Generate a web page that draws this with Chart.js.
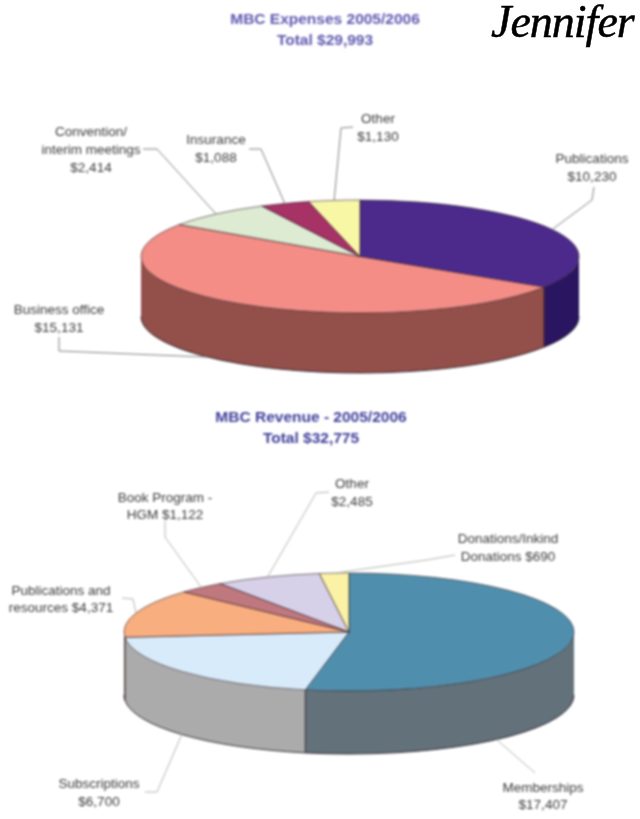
<!DOCTYPE html>
<html><head><meta charset="utf-8">
<style>
html,body{margin:0;padding:0;background:#fff;width:640px;height:819px;overflow:hidden}
canvas{position:absolute;left:0;filter:blur(0.8px)}
#c1{top:0}
#c2{top:394px}
#sig{position:absolute;left:491px;top:-5px;font:italic 400 46px "Liberation Serif",serif;color:#000;-webkit-text-stroke:0.5px #000;white-space:nowrap;letter-spacing:-1px}
</style>
<script src="https://cdn.jsdelivr.net/npm/chart.js@4"></script>
</head><body>
<canvas id="c1" width="640" height="394"></canvas>
<canvas id="c2" width="640" height="425"></canvas>
<div id="sig">Jennifer</div>
<script>
// ---- data ----
const expenseCategories = ['Publications','Business office','Convention/ interim meetings','Insurance','Other'];
const expenseValues = [10230,15131,2414,1088,1130];
const expenseTitle = ['MBC Expenses 2005/2006','Total $29,993'];
const expenseLabels = [['Publications','$10,230'],['Business office','$15,131'],['Convention/','interim meetings','$2,414'],['Insurance','$1,088'],['Other','$1,130']];

const revenueCategories = ['Memberships','Subscriptions','Publications and resources','Book Program - HGM','Other','Donations/Inkind Donations'];
const revenueValues = [17407,6700,4371,1122,2485,690];
const revenueTitle = ['MBC Revenue - 2005/2006','Total $32,775'];
const revenueLabels = [['Memberships','$17,407'],['Subscriptions','$6,700'],['Publications and','resources $4,371'],['Book Program -','HGM $1,122'],['Other','$2,485'],['Donations/Inkind','Donations $690']];

// ---- styles ----
const expenseColors = ['#4B2A8C','#F38D86','#DCEBD2','#A63266','#F8F7A6'];
const expenseSides  = ['#2A1560','#934F4A','#7A8570','#5E1C3A','#8C8B5C'];
const revenueColors = ['#4F8FAD','#D8EBFB','#F8AE7E','#C0787F','#D6D1E8','#FBF2A6'];
const revenueSides  = ['#63717A','#ABABAB','#8C6347','#6C4448','#797684','#8E895E'];

// ---- layout (page pixels) ----
const expenseLayout = {top:0,cx:360,cy:256.5,rx:219,ry:56.5,depth:60,titleX:325,titleY:[24,45],titleColor:'#5F58B0',lineColor:'#808080',
  labelX:[592,59,91,216,378],
  labelY:[[163,181],[314,332],[136,154,172],[144,162],[123,141]],
  leaderAngle:[null,224,null,null,null],
  leader:[[[592,200],[594,187]],[[59,351],[59,337]],[[157,149],[143,149]],[[261,149],[249,149]],[[341,128],[353,127]]]};
const revenueLayout = {top:394,cx:349,cy:632,rx:225,ry:59,depth:63,titleX:311,titleY:[422,443],titleColor:'#3F3E9A',lineColor:'#B4B4B4',
  labelX:[543,99,61,165,352,508],
  labelY:[[792,809],[788,806],[595,612],[502,519],[488,506],[543,561]],
  leaderAngle:[139,null,null,null,null,null],
  leader:[[[535,773]],[[157,792],[145,792]],[[133,599],[122,598]],[[165,537],[165,521]],[[316,493],[329,492]],[[427,560],[455,555]]]};

const labelFont = '13.5px "Liberation Sans", Arial, sans-serif';
const titleFont = 'bold 15.5px "Liberation Sans", Arial, sans-serif';

const pie3d = {
  id:'pie3d',
  beforeDatasetsDraw(chart,args,o){
    const ctx = chart.ctx, arcs = chart.getDatasetMeta(0).data, L = o.layout;
    const first = arcs[0].getProps(['x','y','outerRadius'],true);
    const cx = first.x, cy = first.y, rx = first.outerRadius, ry = L.ry;
    // side wall of every slice facing the viewer
    arcs.forEach((a,i)=>{
      const p = a.getProps(['startAngle','endAngle'],true);
      const s = Math.max(p.startAngle,0), e = Math.min(p.endAngle,Math.PI);
      if(e<=s) return;
      ctx.beginPath();
      ctx.ellipse(cx,cy,rx,ry,0,s,e);
      ctx.ellipse(cx,cy+L.depth,rx,ry,0,e,s,true);
      ctx.closePath();
      ctx.fillStyle = o.sides[i];
      ctx.fill();
      ctx.strokeStyle = 'rgba(30,20,30,.85)';
      ctx.lineWidth = 1;
      ctx.beginPath();
      ctx.ellipse(cx,cy+L.depth,rx,ry,0,s,e);
      ctx.stroke();
      if(p.startAngle>0){
        ctx.beginPath();
        ctx.moveTo(cx+rx*Math.cos(s),cy+ry*Math.sin(s));
        ctx.lineTo(cx+rx*Math.cos(s),cy+L.depth+ry*Math.sin(s));
        ctx.stroke();
      }
    });
    ctx.save();
    ctx.translate(cx,cy); ctx.scale(1,ry/rx); ctx.translate(-cx,-cy);
  },
  afterDatasetsDraw(chart,args,o){
    const ctx = chart.ctx, arcs = chart.getDatasetMeta(0).data, L = o.layout;
    ctx.restore();
    const first = arcs[0].getProps(['x','y','outerRadius'],true);
    const cx = first.x, cy = first.y, rx = first.outerRadius, ry = L.ry;
    // leader lines
    ctx.lineWidth = 1; ctx.strokeStyle = L.lineColor;
    arcs.forEach((a,i)=>{
      const p = a.getProps(['startAngle','endAngle'],true);
      const m = L.leaderAngle[i]!=null ? (L.leaderAngle[i]-90)*Math.PI/180 : (p.startAngle+p.endAngle)/2;
      const x = cx+rx*Math.cos(m), y = cy+ry*Math.sin(m)+(Math.sin(m)>0?L.depth:0);
      ctx.beginPath(); ctx.moveTo(x,y);
      L.leader[i].forEach(q=>ctx.lineTo(q[0],q[1]-L.top));
      ctx.stroke();
    });
    // slice labels
    ctx.font = labelFont; ctx.textAlign='center'; ctx.textBaseline='alphabetic'; ctx.fillStyle='#3a3a3a';
    o.labels.forEach((lines,i)=>lines.forEach((t,j)=>ctx.fillText(t,L.labelX[i],L.labelY[i][j]-L.top)));
    // title
    ctx.font = titleFont; ctx.fillStyle = L.titleColor;
    o.title.forEach((t,j)=>ctx.fillText(t,L.titleX,L.titleY[j]-L.top));
  }
};

function build(id,cats,vals,colors,sides,labels,title,L,h){
  const cyRel = L.cy-L.top;
  return new Chart(document.getElementById(id),{
    type:'pie',
    data:{labels:cats,datasets:[{data:vals,backgroundColor:colors,borderColor:'rgba(40,20,30,.9)',borderWidth:1,radius:L.rx}]},
    options:{
      responsive:false,maintainAspectRatio:false,animation:false,rotation:0,
      layout:{padding:{left:2*L.cx-640,right:0,top:2*cyRel-h,bottom:0}},
      plugins:{legend:{display:false},tooltip:{enabled:false},title:{display:false},
        pie3d:{layout:L,sides:sides,labels:labels,title:title}}
    },
    plugins:[pie3d]
  });
}
build('c1',expenseCategories,expenseValues,expenseColors,expenseSides,expenseLabels,expenseTitle,expenseLayout,394);
build('c2',revenueCategories,revenueValues,revenueColors,revenueSides,revenueLabels,revenueTitle,revenueLayout,425);
</script>
</body></html>
